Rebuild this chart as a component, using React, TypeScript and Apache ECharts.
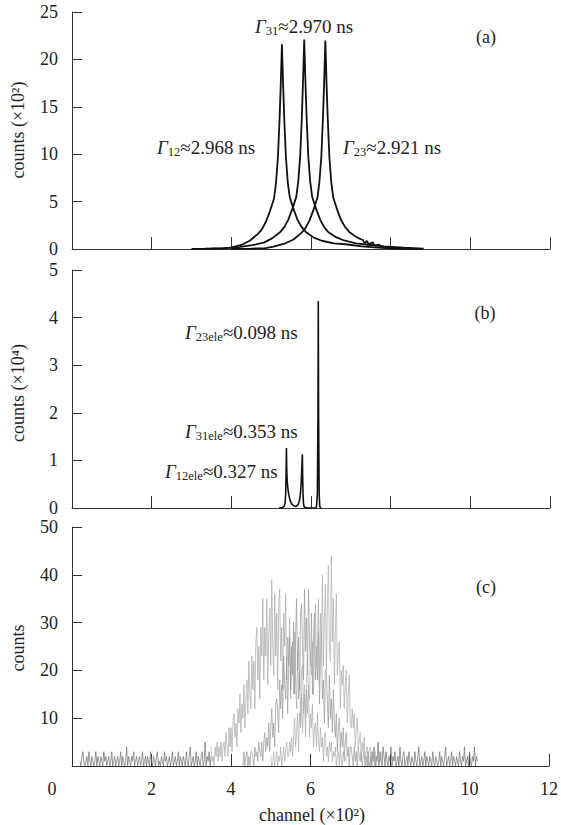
import React, { useEffect, useRef } from "react";
import * as echarts from "echarts";

// ---------- Panel (a): counts (x10^2) vs channel (x10^2) ----------
const gamma12Curve: number[][] = [
  [3.0, 0.01], [3.5, 0.03], [3.77, 0.06], [4.0, 0.15], [4.27, 0.45], [4.47, 0.9], [4.67, 1.6], [4.77, 2.1],
  [4.87, 2.9], [4.97, 4.0], [5.07, 5.3], [5.12, 6.9], [5.17, 9.7], [5.21, 13.6], [5.24, 17.3], [5.27, 21.6],
  [5.30, 17.3], [5.33, 13.6], [5.37, 9.7], [5.42, 6.9], [5.47, 5.4], [5.57, 4.1], [5.67, 3.0], [5.77, 2.3],
  [5.87, 1.8], [6.07, 1.2], [6.27, 0.87], [6.57, 0.6], [6.87, 0.5], [7.27, 0.28], [7.77, 0.12], [8.2, 0.04], [8.6, 0.01],
];
const gamma31Curve: number[][] = [
  [3.33, 0.03], [3.83, 0.1], [4.23, 0.22], [4.53, 0.4], [4.83, 0.7], [5.03, 1.15], [5.23, 1.8], [5.33, 2.3],
  [5.43, 3.1], [5.53, 4.2], [5.63, 5.5], [5.68, 7.1], [5.73, 9.9], [5.77, 13.9], [5.80, 17.7], [5.83, 22.1],
  [5.86, 17.7], [5.89, 13.9], [5.93, 9.9], [5.98, 7.1], [6.03, 5.5], [6.13, 4.2], [6.23, 3.1], [6.33, 2.3],
  [6.43, 1.8], [6.63, 1.25], [6.83, 0.9], [7.13, 0.6], [7.43, 0.45], [7.83, 0.27], [8.33, 0.13], [8.83, 0.05],
];
const gamma23Curve: number[][] = [
  [4.0, 0.01], [4.5, 0.04], [4.86, 0.1], [5.06, 0.25], [5.36, 0.6], [5.56, 1.0], [5.76, 1.7], [5.86, 2.2],
  [5.96, 3.0], [6.06, 4.1], [6.16, 5.4], [6.21, 7.0], [6.26, 9.8], [6.30, 13.8], [6.33, 17.5], [6.36, 22.0],
  [6.39, 17.5], [6.42, 13.8], [6.46, 9.8], [6.51, 7.0], [6.56, 5.4], [6.66, 4.1], [6.76, 3.0], [6.86, 2.3],
  [6.96, 1.8], [7.16, 1.2], [7.3, 0.95], [7.35, 0.6], [7.4, 0.85], [7.45, 0.5], [7.55, 0.7], [7.6, 0.35],
  [7.7, 0.45], [7.8, 0.2], [8.0, 0.12], [8.4, 0.04], [8.8, 0.01],
];

// ---------- Panel (b): counts (x10^4), electronic contribution ----------
const eleTrace: number[][] = [
  [5.2, 0], [5.28, 0.01], [5.32, 0.03], [5.35, 0.1], [5.365, 0.3], [5.375, 0.75], [5.383, 1.26],
  [5.39, 0.85], [5.40, 0.6], [5.42, 0.4], [5.45, 0.25], [5.48, 0.15], [5.52, 0.08], [5.56, 0.05], [5.6, 0.035],
  [5.64, 0.04], [5.68, 0.08], [5.71, 0.16], [5.735, 0.3], [5.755, 0.55], [5.77, 0.85], [5.783, 1.13],
  [5.79, 0.7], [5.80, 0.3], [5.81, 0.1], [5.83, 0.02], [5.9, 0], [6.12, 0], [6.14, 0.04], [6.16, 0.3],
  [6.175, 2.0], [6.183, 4.35], [6.19, 2.0], [6.205, 0.3], [6.22, 0.03], [6.25, 0],
];

// ---------- Panel (c): raw counts; each trace starts at a channel, step 0.025 (x10^2) ----------
const STEP_C = 0.025;
const startBaseLeft = 0.2;
const countsBaseLeft: number[] = [
  1, 0, 2, 3, 1, 0, 1, 2, 0, 3, 1, 0, 2, 1, 0, 1, 3, 0, 2, 1,
  0, 2, 1, 0, 3, 1, 2, 0, 1, 2, 0, 1, 3, 0, 1, 2, 0, 1, 2, 0,
  1, 3, 0, 2, 1, 0, 1, 4, 0, 2, 1, 0, 2, 1, 3, 0, 1, 2, 0, 1,
  2, 0, 1, 3, 0, 1, 2, 0, 2, 1, 0, 3, 1, 0, 2, 1, 0, 2, 3, 0,
  1, 0, 2, 1, 0, 3, 1, 2, 0, 1, 2, 0, 1, 3, 0, 1, 2, 0, 1, 3,
  0, 2, 1, 0, 2, 1, 0, 3, 1, 0, 2, 4, 0, 1, 2, 0, 1, 3, 0, 2,
  1, 0, 2, 3, 0, 1, 5, 0, 2, 1, 3, 0, 2,
];
const startBaseRight = 7.5;
const countsBaseRight: number[] = [
  2, 0, 3, 1, 4, 0, 2, 1, 5, 0, 3, 1, 0, 4, 2, 0, 3, 1, 0, 2,
  1, 4, 0, 2, 1, 3, 0, 1, 2, 0, 4, 1, 0, 2, 3, 0, 1, 2, 0, 3,
  1, 0, 2, 1, 0, 3, 1, 0, 2, 4, 0, 1, 2, 0, 1, 3, 0, 2, 1, 0,
  2, 1, 0, 3, 1, 0, 2, 1, 0, 1, 3, 0, 2, 1, 0, 2, 4, 0, 1, 2,
  0, 1, 3, 0, 2, 1, 0, 2, 1, 0, 3, 1, 0, 2, 1, 4, 0, 1, 2, 0,
  3, 1, 0, 2, 1, 4, 0, 2, 1,
];
const startC12 = 3.5;
const countsC12: number[] = [
  4, 1, 2, 0, 4, 2, 5, 1, 4, 2, 5, 1, 4, 5, 2, 7, 4, 2, 8, 4,
  8, 3, 9, 11, 6, 9, 4, 12, 9, 15, 7, 13, 10, 17, 8, 14, 18, 11, 22, 15,
  12, 23, 16, 22, 12, 26, 29, 18, 25, 14, 29, 23, 35, 18, 29, 23, 35, 17, 28, 33,
  21, 39, 26, 19, 36, 23, 32, 16, 34, 37, 22, 29, 16, 32, 25, 36, 18, 27, 21, 31,
  14, 23, 26, 15, 28, 18, 12, 24, 14, 20, 9, 20, 21, 11, 15, 6, 16, 11, 17, 6,
  11, 8, 13, 4, 8, 9, 4, 11, 5, 3, 8, 4, 6, 1, 6, 7, 2, 4, 1, 5,
  3, 5, 1, 3, 2, 4, 0, 2, 3, 0, 4, 1, 0, 3, 1, 2, 1,
];
const startC31 = 4.3;
const countsC31: number[] = [
  0, 3, 0, 2, 3, 0, 2, 0, 3, 3, 2, 0, 4, 2, 3, 1, 5, 3, 2, 5,
  1, 5, 7, 3, 6, 4, 9, 3, 8, 12, 6, 9, 4, 13, 14, 11, 7, 18, 12, 17,
  10, 23, 17, 14, 23, 11, 21, 27, 16, 25, 19, 30, 15, 27, 35, 20, 27, 16, 32, 34,
  25, 18, 37, 24, 31, 19, 37, 26, 21, 32, 15, 26, 32, 18, 25, 18, 28, 13, 22, 28,
  14, 18, 9, 20, 20, 13, 8, 19, 10, 14, 7, 16, 9, 6, 11, 3, 8, 10, 4, 7,
  4, 8, 2, 5, 7, 2, 4, 0, 4, 4, 2, 0, 4, 1, 3, 0, 4, 2, 1, 3,
  0, 2, 3, 0, 2, 0, 3, 0, 1,
];
const startC23 = 5.0;
const countsC23: number[] = [
  2, 0, 1, 3, 0, 1, 3, 0, 2, 1, 4, 0, 2, 4, 1, 3, 5, 2, 2, 5,
  3, 6, 2, 6, 10, 4, 7, 11, 3, 11, 8, 15, 7, 13, 17, 10, 17, 23, 15, 14,
  24, 19, 26, 15, 25, 34, 21, 25, 35, 17, 32, 26, 40, 21, 31, 38, 20, 34, 42, 25,
  22, 44, 26, 35, 17, 28, 36, 19, 23, 26, 12, 20, 17, 21, 12, 17, 20, 9, 15, 19,
  9, 8, 12, 8, 11, 4, 8, 10, 4, 5, 7, 1, 5, 3, 6, 1, 3, 4, 0, 3,
  4, 1, 0, 3, 1, 3, 0, 2, 3, 0, 1, 3, 0,
];

const xTicksMax = 12;
const yMaxA = 25;
const yMaxB = 5;
const yMaxC = 50;

const FONT = "'Liberation Serif', 'Times New Roman', serif";

function toPairs(start: number, values: number[]): number[][] {
  return values.map((v, i) => [+(start + i * STEP_C).toFixed(3), v]);
}

function annot(x: number, y: number, sub: string, rest: string) {
  return {
    type: "text",
    x,
    y,
    style: {
      text: `{g|Γ}{s|${sub}}{t|${rest}}`,
      align: "left",
      verticalAlign: "middle",
      fill: "#222",
      rich: {
        g: { fontFamily: FONT, fontSize: 19, fontStyle: "italic", fill: "#222" },
        s: { fontFamily: FONT, fontSize: 12.5, fill: "#222", padding: [9, 0, 0, 0] },
        t: { fontFamily: FONT, fontSize: 19, fill: "#222" },
      },
    },
  };
}

function plainText(x: number, y: number, text: string, size = 18, rotation = 0, align = "center") {
  return {
    type: "text",
    x,
    y,
    rotation,
    style: {
      text,
      align,
      verticalAlign: "middle",
      fill: "#222",
      fontFamily: FONT,
      fontSize: size,
    },
  };
}

export default function App() {
  const ref = useRef<HTMLDivElement>(null);
  useEffect(() => {
    if (!ref.current) return;
    document.body.style.margin = "0";
    const chart = echarts.init(ref.current, undefined, { renderer: "svg" });
    const axisLineStyle = { color: "#333", width: 1 };
    const grids = [
      { left: 72, top: 12, width: 478, height: 237 },
      { left: 72, top: 270, width: 478, height: 238 },
      { left: 72, top: 527, width: 478, height: 239 },
    ];
    const xAxis = [0, 1, 2].map((i) => ({
      type: "value",
      gridIndex: i,
      min: 0,
      max: xTicksMax,
      interval: 2,
      axisLine: { show: true, lineStyle: axisLineStyle },
      axisTick: { show: true, inside: true, length: 12, lineStyle: axisLineStyle },
      splitLine: { show: false },
      axisLabel: {
        show: i === 2,
        margin: 14,
        fontFamily: FONT,
        fontSize: 18,
        color: "#222",
        formatter: (v: number) => (v === 0 ? "" : String(v)),
      },
    }));
    const yMaxes = [yMaxA, yMaxB, yMaxC];
    const yIntervals = [5, 1, 10];
    const yAxis = [0, 1, 2].map((i) => ({
      type: "value",
      gridIndex: i,
      min: 0,
      max: yMaxes[i],
      interval: yIntervals[i],
      axisLine: { show: true, lineStyle: axisLineStyle },
      axisTick: { show: true, inside: true, length: 10, lineStyle: axisLineStyle },
      splitLine: { show: false },
      axisLabel: {
        show: true,
        margin: 14,
        fontFamily: FONT,
        fontSize: 18,
        color: "#222",
        formatter: (v: number) => (i === 2 && v === 0 ? "" : String(v)),
      },
    }));
    const lineA = { color: "#111", width: 1.8 };
    const gray = (color: string) => ({ type: "line", xAxisIndex: 2, yAxisIndex: 2, symbol: "none", lineStyle: { width: 0.7, color }, itemStyle: { color } });
    chart.setOption({
      animation: false,
      backgroundColor: "#fff",
      grid: grids,
      xAxis,
      yAxis,
      series: [
        { name: "Γ12", type: "line", xAxisIndex: 0, yAxisIndex: 0, data: gamma12Curve, symbol: "none", lineStyle: lineA, itemStyle: { color: "#111" } },
        { name: "Γ31", type: "line", xAxisIndex: 0, yAxisIndex: 0, data: gamma31Curve, symbol: "none", lineStyle: lineA, itemStyle: { color: "#111" } },
        { name: "Γ23", type: "line", xAxisIndex: 0, yAxisIndex: 0, data: gamma23Curve, symbol: "none", lineStyle: lineA, itemStyle: { color: "#111" } },
        { name: "ele", type: "line", xAxisIndex: 1, yAxisIndex: 1, data: eleTrace, symbol: "none", lineStyle: { color: "#111", width: 1.6 }, itemStyle: { color: "#111" } },
        { name: "baseL", data: toPairs(startBaseLeft, countsBaseLeft), ...gray("#6e6e6e") },
        { name: "baseR", data: toPairs(startBaseRight, countsBaseRight), ...gray("#6e6e6e") },
        { name: "c12", data: toPairs(startC12, countsC12), ...gray("#a9a9a9") },
        { name: "c31", data: toPairs(startC31, countsC31), ...gray("#9a9a9a") },
        { name: "c23", data: toPairs(startC23, countsC23), ...gray("#adadad") },
      ],
      graphic: [
        annot(157, 147, "12", "≈2.968 ns"),
        annot(255, 26, "31", "≈2.970 ns"),
        annot(343, 147, "23", "≈2.921 ns"),
        plainText(486, 37, "(a)"),
        annot(185, 332, "23ele", "≈0.098 ns"),
        annot(185, 431, "31ele", "≈0.353 ns"),
        annot(165, 471, "12ele", "≈0.327 ns"),
        plainText(485, 313, "(b)"),
        plainText(486, 587, "(c)"),
        plainText(18, 130, "counts (×10²)", 18, Math.PI / 2),
        plainText(18, 393, "counts (×10⁴)", 18, Math.PI / 2),
        plainText(18, 648, "counts", 18, Math.PI / 2),
        plainText(52, 789, "0"),
        plainText(312, 815, "channel (×10²)"),
      ],
    });
    return () => chart.dispose();
  }, []);
  return <div ref={ref} style={{ position: "fixed", left: 0, top: 0, width: 561, height: 825 }} />;
}
